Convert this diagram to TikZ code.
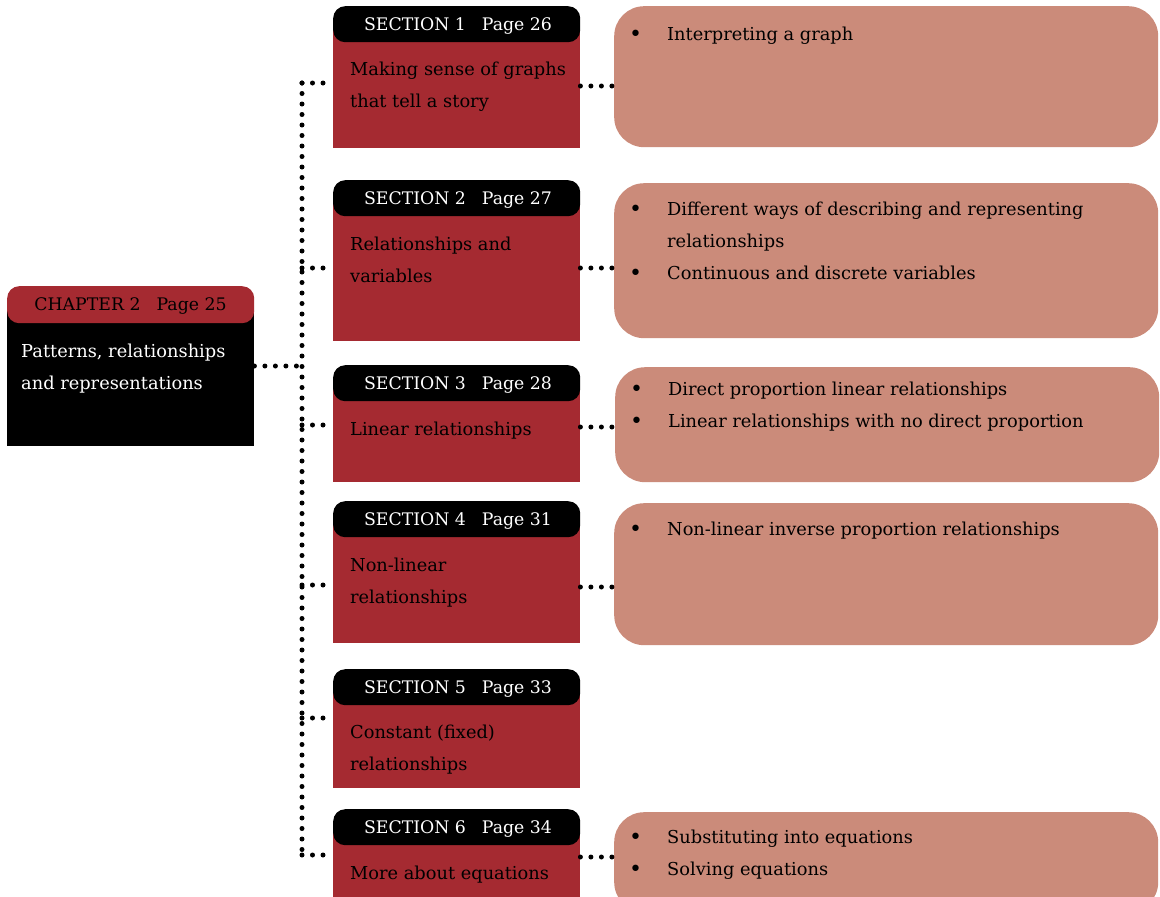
\documentclass[tikz,border=0pt]{standalone}
\usepackage{fontspec}
\setmainfont{DejaVu Serif}
\definecolor{secred}{HTML}{A52A31}
\definecolor{peach}{HTML}{CB8B7A}
\begin{document}
\begin{tikzpicture}[x=1pt,y=-1pt,
  txt/.style={font=\fontsize{17.8}{32}\selectfont, inner sep=0pt, anchor=base west},
  bul/.style={font=\fontsize{22}{32}\selectfont, inner sep=0pt, anchor=base west},
  hdtxt/.style={font=\fontsize{17.3}{20}\selectfont, inner sep=0pt, anchor=base},
  secbody/.style={fill=secred, minimum width=247pt, inner sep=0pt, anchor=north west},
  sechead/.style={fill=black, rounded corners=12pt, minimum width=247pt, minimum height=36pt, inner sep=0pt, anchor=north west},
  bbox/.style={fill=peach, rounded corners=30pt, minimum width=544pt, inner sep=0pt, anchor=north west},
  dots/.style={line width=5pt, line cap=round, dash pattern=on 0pt off 10.5pt},
]
\useasboundingbox (0,0) rectangle (1160,897);
% chapter
\node[fill=black, minimum width=247pt, minimum height=146pt, inner sep=0pt, anchor=north west] (chb) at (7,300) {};
\node[fill=secred, rounded corners=12pt, minimum width=247pt, minimum height=37pt, inner sep=0pt, anchor=north west] (chh) at (7,286) {};
\node[hdtxt, text=black] (cht) at (130.5,310) {CHAPTER 2\hspace{16pt}Page 25};
\node[txt, text=white] (ct1) at (21,357) {Patterns, relationships};
\node[txt, text=white] (ct2) at (21,389) {and representations};

% sections
\node[secbody, minimum height=128pt] (sb1) at (333,20) {};
\node[sechead] (sh1) at (333,6) {};
\node[hdtxt, text=white] (st1) at (458,30) {SECTION 1\hspace{16pt}Page 26};
\node[txt] (s1a) at (350,75) {Making sense of graphs};
\node[txt] (s1b) at (350,107) {that tell a story};

\node[secbody, minimum height=147pt] (sb2) at (333,194) {};
\node[sechead] (sh2) at (333,180) {};
\node[hdtxt, text=white] (st2) at (458,204) {SECTION 2\hspace{16pt}Page 27};
\node[txt] (s2a) at (350,250) {Relationships and};
\node[txt] (s2b) at (350,282) {variables};

\node[secbody, minimum height=103pt] (sb3) at (333,379) {};
\node[sechead] (sh3) at (333,365) {};
\node[hdtxt, text=white] (st3) at (458,389) {SECTION 3\hspace{16pt}Page 28};
\node[txt] (s3a) at (350,435) {Linear relationships};

\node[secbody, minimum height=128pt] (sb4) at (333,515) {};
\node[sechead] (sh4) at (333,501) {};
\node[hdtxt, text=white] (st4) at (458,525) {SECTION 4\hspace{16pt}Page 31};
\node[txt] (s4a) at (350,571) {Non-linear};
\node[txt] (s4b) at (350,603) {relationships};

\node[secbody, minimum height=105pt] (sb5) at (333,683) {};
\node[sechead] (sh5) at (333,669) {};
\node[hdtxt, text=white] (st5) at (458,693) {SECTION 5\hspace{16pt}Page 33};
\node[txt] (s5a) at (350,738) {Constant (fixed)};
\node[txt] (s5b) at (350,770) {relationships};

\node[secbody, minimum height=74pt] (sb6) at (333,823) {};
\node[sechead] (sh6) at (333,809) {};
\node[hdtxt, text=white] (st6) at (458,833) {SECTION 6\hspace{16pt}Page 34};
\node[txt] (s6a) at (350,879) {More about equations};

% bullet boxes
\node[bbox, minimum height=141pt] (r1) at (614,6) {};
\node[bul] (b1) at (629,41) {•};
\node[txt] (r1a) at (667,40) {Interpreting a graph};

\node[bbox, minimum height=155pt] (r2) at (614,183) {};
\node[bul] (b2a) at (629,216) {•};
\node[txt] (r2a) at (667,215) {Different ways of describing and representing};
\node[txt] (r2b) at (667,247) {relationships};
\node[bul] (b2b) at (629,280) {•};
\node[txt] (r2c) at (667,279) {Continuous and discrete variables};

\node[bbox, minimum height=115pt] (r3) at (615,367) {};
\node[bul] (b3a) at (630,396) {•};
\node[txt] (r3a) at (668,395) {Direct proportion linear relationships};
\node[bul] (b3b) at (630,428) {•};
\node[txt] (r3b) at (668,427) {Linear relationships with no direct proportion};

\node[bbox, minimum height=142pt] (r4) at (614,503) {};
\node[bul] (b4) at (629,536) {•};
\node[txt] (r4a) at (667,535) {Non-linear inverse proportion relationships};

\node[bbox, minimum height=100pt] (r6) at (614,812) {};
\node[bul] (b6a) at (629,844) {•};
\node[txt] (r6a) at (667,843) {Substituting into equations};
\node[bul] (b6b) at (629,876) {•};
\node[txt] (r6b) at (667,875) {Solving equations};

% connectors
\coordinate (t1) at (302,83);
\coordinate (tc) at (302,366);
\coordinate (t2) at (302,268);
\coordinate (t3) at (302,425);
\coordinate (t4) at (302,585);
\coordinate (t5) at (302,718);
\coordinate (t6) at (302,855);
\draw[dots] (t1) -- (t6);
\draw[dots] (chb.east |- tc) -- (tc);
\foreach \i in {1,...,6} {\draw[dots] (t\i) -- (sb\i.west |- t\i);}
\draw[dots] (sb1.east |- 0,86) -- (r1.west |- 0,86);
\draw[dots] (sb2.east |- t2) -- (r2.west |- t2);
\draw[dots] (sb3.east |- 0,427) -- (r3.west |- 0,427);
\draw[dots] (sb4.east |- 0,587) -- (r4.west |- 0,587);
\draw[dots] (sb6.east |- 0,857) -- (r6.west |- 0,857);
\end{tikzpicture}
\end{document}
